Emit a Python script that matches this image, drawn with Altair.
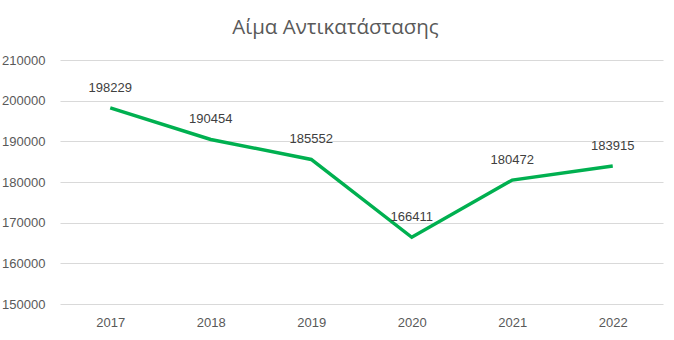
import altair as alt
import pandas as pd

years = ["2017", "2018", "2019", "2020", "2021", "2022"]
values = [198229, 190454, 185552, 166411, 180472, 183915]

df = pd.DataFrame({"year": years, "value": values})

base = alt.Chart(df).encode(
    x=alt.X("year:O", sort=years,
            scale=alt.Scale(paddingInner=0, paddingOuter=0.5),
            axis=alt.Axis(title=None, labelAngle=0, ticks=False, domain=False,
                          labelFont="Liberation Sans", labelFontSize=13,
                          labelColor="#595959", labelPadding=12)),
    y=alt.Y("value:Q", scale=alt.Scale(domain=[150000, 210000], nice=False),
            axis=alt.Axis(title=None, values=list(range(150000, 210001, 10000)),
                          format="d", ticks=False, domain=False,
                          labelFont="Liberation Sans", labelFontSize=13,
                          labelColor="#595959", labelPadding=15,
                          gridColor="#d9d9d9", gridWidth=1)),
)

line = base.mark_line(color="#00B050", strokeWidth=3.5)
labels = base.mark_text(dy=-20, font="Liberation Sans", fontSize=13,
                        color="#404040").encode(text=alt.Text("value:Q", format="d"))

chart = (line + labels).properties(
    width=603, height=244,
    title=alt.TitleParams("Αίμα Αντικατάστασης", font="Open Sans", fontSize=20.5,
                          fontWeight="normal", color="#595959", offset=16,
                          anchor="middle", dx=-26),
    autosize=alt.AutoSizeParams(type="none"),
    padding={"left": 60, "top": 60, "right": 11, "bottom": 36},
).configure_view(stroke=None)

chart.save("out.html", embed_options={"renderer": "svg", "actions": False})
